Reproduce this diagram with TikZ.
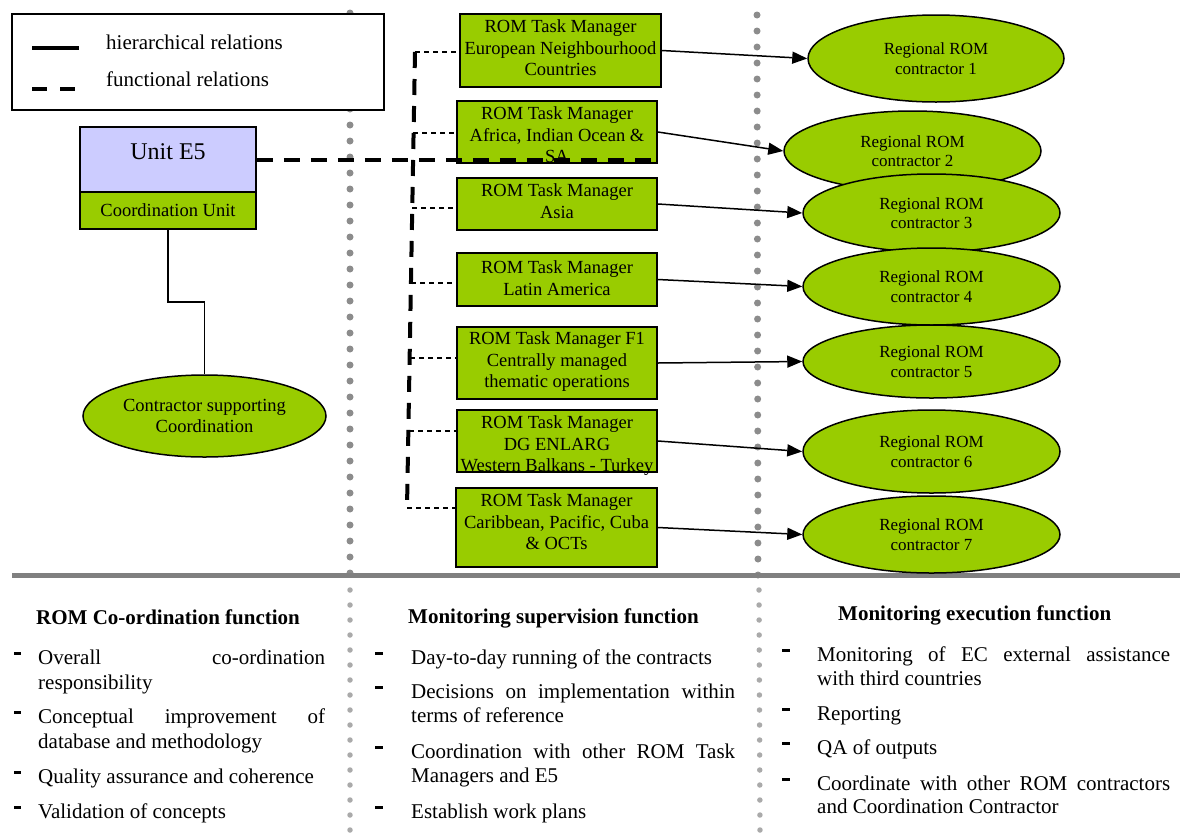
\documentclass[tikz,border=0pt]{standalone}
\usepackage{fontspec}
\setmainfont{Liberation Serif}
\usetikzlibrary{shapes.geometric,arrows.meta}
\definecolor{lime}{HTML}{99CC00}
\definecolor{lav}{HTML}{CCCCFF}
\definecolor{dotgray}{HTML}{8C8C8C}
\definecolor{dotlight}{HTML}{AAAAAA}
\definecolor{bargray}{HTML}{808080}
\newcommand\justline[2]{\makebox[#1][s]{#2}}
\begin{document}
\begin{tikzpicture}[x=1pt,y=-1pt,
  tmbox/.style={draw, line width=1.8pt, fill=lime, inner sep=0pt, minimum width=200pt},
  tmtext/.style={inner sep=0pt, align=center, font=\fontsize{18.5}{21.5}\selectfont},
  rcell/.style={ellipse, draw, line width=1.5pt, fill=lime, inner sep=0pt, minimum width=257pt, align=center, font=\fontsize{17}{19.5}\selectfont},
  arr/.style={line width=1.5pt, -{Triangle[length=15pt,width=12pt]}},
  thindash/.style={line width=1.5pt, dash pattern=on 5pt off 4pt},
  thickdash/.style={line width=4pt, dash pattern=on 16pt off 11pt},
  dotline/.style={line width=7pt, dotgray, line cap=round, dash pattern=on 0pt off 16pt},
  dotlinelight/.style={line width=5.5pt, dotlight, line cap=round, dash pattern=on 0pt off 15pt},
  btext/.style={anchor=base west, inner sep=0pt, font=\fontsize{21}{24}\selectfont},
  bhead/.style={anchor=base west, inner sep=0pt, font=\fontsize{21}{24}\selectfont\bfseries},
  bullet/.style={fill=black}
]
\useasboundingbox (0,0) rectangle (1180,833);

% dotted separators
\draw[dotline] (350,13) -- (350,575);
\draw[dotline] (757,15) -- (758,575);
\draw[dotlinelight] (350,590) -- (350,833);
\draw[dotlinelight] (759,590) -- (760,833);

% horizontal bar
\draw[bargray, line width=5pt] (12,575) -- (1180,575);

% legend
\node[draw, line width=1.5pt, fill=white, minimum width=372pt, minimum height=96pt, inner sep=0pt] (legend) at (198,62) {};
\draw[line width=4pt] (32,48) -- (79,48);
\draw[line width=4pt, dash pattern=on 15pt off 13pt] (32,89) -- (77,89);
\node[btext] (lh) at (106,49) {hierarchical relations};
\node[btext] (lf) at (106,86) {functional relations};

% Unit E5
\node[draw, line width=1.5pt, fill=lav, minimum width=176pt, minimum height=65pt, inner sep=0pt,
      font=\fontsize{24}{28}\selectfont, text height=16pt, text depth=16pt] (unit) at (168,159.5) {Unit E5};
\node[draw, line width=1.5pt, fill=lime, minimum width=176pt, minimum height=37pt, inner sep=0pt,
      font=\fontsize{18.5}{21.5}\selectfont] (cu) at (168,210.5) {Coordination Unit};
\node[rcell, minimum width=243pt, minimum height=82pt, font=\fontsize{18.5}{21}\selectfont] (csc) at (204.5,416) {Contractor supporting\\Coordination};
\coordinate (kink) at (204.5,302);
\draw[line width=1.5pt] (cu.south) |- (kink) -- (csc.north);

% task manager boxes
\node[tmbox, minimum width=201pt, minimum height=73pt] (b1) at (560.5,50.5) {};
\node[tmbox, minimum height=62pt] (b2) at (557,132) {};
\node[tmbox, minimum height=52pt] (b3) at (557,204) {};
\node[tmbox, minimum height=53pt] (b4) at (557,279.5) {};
\node[tmbox, minimum height=72pt] (b5) at (557,363) {};
\node[tmbox, minimum height=62pt] (b6) at (557,441) {};
\node[tmbox, minimum width=201pt, minimum height=79pt] (b7) at (556.5,527.5) {};

\node[tmtext] (t1) at ([yshift=2.8pt]b1.center) {ROM Task Manager\\European Neighbourhood\\Countries};
\node[tmtext] (t2) at ([yshift=-2.7pt]b2.center) {ROM Task Manager\\Africa, Indian Ocean \&\\SA};
\node[tmtext] (t3) at ([yshift=3pt]b3.center) {ROM Task Manager\\Asia};
\node[tmtext] (t4) at ([yshift=1.5pt]b4.center) {ROM Task Manager\\Latin America};
\node[tmtext] (t5) at ([yshift=1.3pt]b5.center) {ROM Task Manager F1\\Centrally managed\\thematic operations};
\node[tmtext] (t6) at ([yshift=-4.7pt]b6.center) {ROM Task Manager\\DG ENLARG\\Western Balkans - Turkey};
\node[tmtext] (t7) at ([yshift=5.8pt]b7.center) {ROM Task Manager\\Caribbean, Pacific, Cuba\\\& OCTs};

% regional contractors
\node[rcell, minimum width=256pt, minimum height=87pt] (e1) at (936,58.5) {Regional ROM\\contractor 1};
\node[rcell, minimum height=80pt] (e2) at (912.5,151) {Regional ROM\\contractor 2};
\node[rcell, minimum height=78pt] (e3) at (931.5,213) {Regional ROM\\contractor 3};
\node[rcell, minimum height=77pt] (e4) at (931.5,286.5) {Regional ROM\\contractor 4};
\node[rcell, minimum height=73pt] (e5) at (931.5,361.5) {Regional ROM\\contractor 5};
\node[rcell, minimum height=83pt] (e6) at (931.5,451.5) {Regional ROM\\contractor 6};
\node[rcell, minimum height=77pt] (e7) at (931.5,534.5) {Regional ROM\\contractor 7};

\foreach \i in {1,...,7} {\draw[arr] (b\i.east) -- (e\i.west);}

% functional relations
\coordinate (v1) at (415,52);
\coordinate (v2) at (413,133);
\coordinate (v3) at (412,208);
\coordinate (v4) at (411,283);
\coordinate (v5) at (410,358);
\coordinate (v6) at (409,431);
\coordinate (v7) at (407,508);
\foreach \i in {1,...,7} {\draw[thindash] (v\i) -- (v\i -| b\i.west);}
\draw[thickdash] (v1) -- (v7);
\coordinate (hend) at (652,159.5);
\draw[thickdash] (unit.east) -- (hend);

% bottom: left column
\node[bhead] (h1) at (36,624) {ROM Co-ordination function};
\node[btext] (l1a) at (38,664) {\justline{287pt}{Overall co-ordination}};
\node[btext] (l1b) at (38,689) {responsibility};
\node[btext] (l2a) at (38,723) {\justline{287pt}{Conceptual improvement of}};
\node[btext] (l2b) at (38,748) {database and methodology};
\node[btext] (l3) at (38,783) {Quality assurance and coherence};
\node[btext] (l4) at (38,818) {Validation of concepts};
\foreach \y in {653,712,772,807} {\fill[bullet] (14,\y-1.5) rectangle (21,\y+1.5);}

% bottom: middle column
\node[bhead] (h2) at (408,623) {Monitoring supervision function};
\node[btext] (m1) at (411,664) {Day-to-day running of the contracts};
\node[btext] (m2a) at (411,698) {\justline{324pt}{Decisions on implementation within}};
\node[btext] (m2b) at (411,722) {terms of reference};
\node[btext] (m3a) at (411,758) {\justline{324pt}{Coordination with other ROM Task}};
\node[btext] (m3b) at (411,782) {Managers and E5};
\node[btext] (m4) at (411,818) {Establish work plans};
\foreach \y in {653,687,747,807} {\fill[bullet] (375,\y-1.5) rectangle (383,\y+1.5);}

% bottom: right column
\node[bhead] (h3) at (838,620) {Monitoring execution function};
\node[btext] (r1a) at (817,661) {\justline{353pt}{Monitoring of EC external assistance}};
\node[btext] (r1b) at (817,685) {with third countries};
\node[btext] (r2) at (817,720) {Reporting};
\node[btext] (r3) at (817,754) {QA of outputs};
\node[btext] (r4a) at (817,790) {\justline{353pt}{Coordinate with other ROM contractors}};
\node[btext] (r4b) at (817,813) {and Coordination Contractor};
\foreach \y in {650,709,743,779} {\fill[bullet] (782,\y-1.5) rectangle (790,\y+1.5);}

\end{tikzpicture}
\end{document}
